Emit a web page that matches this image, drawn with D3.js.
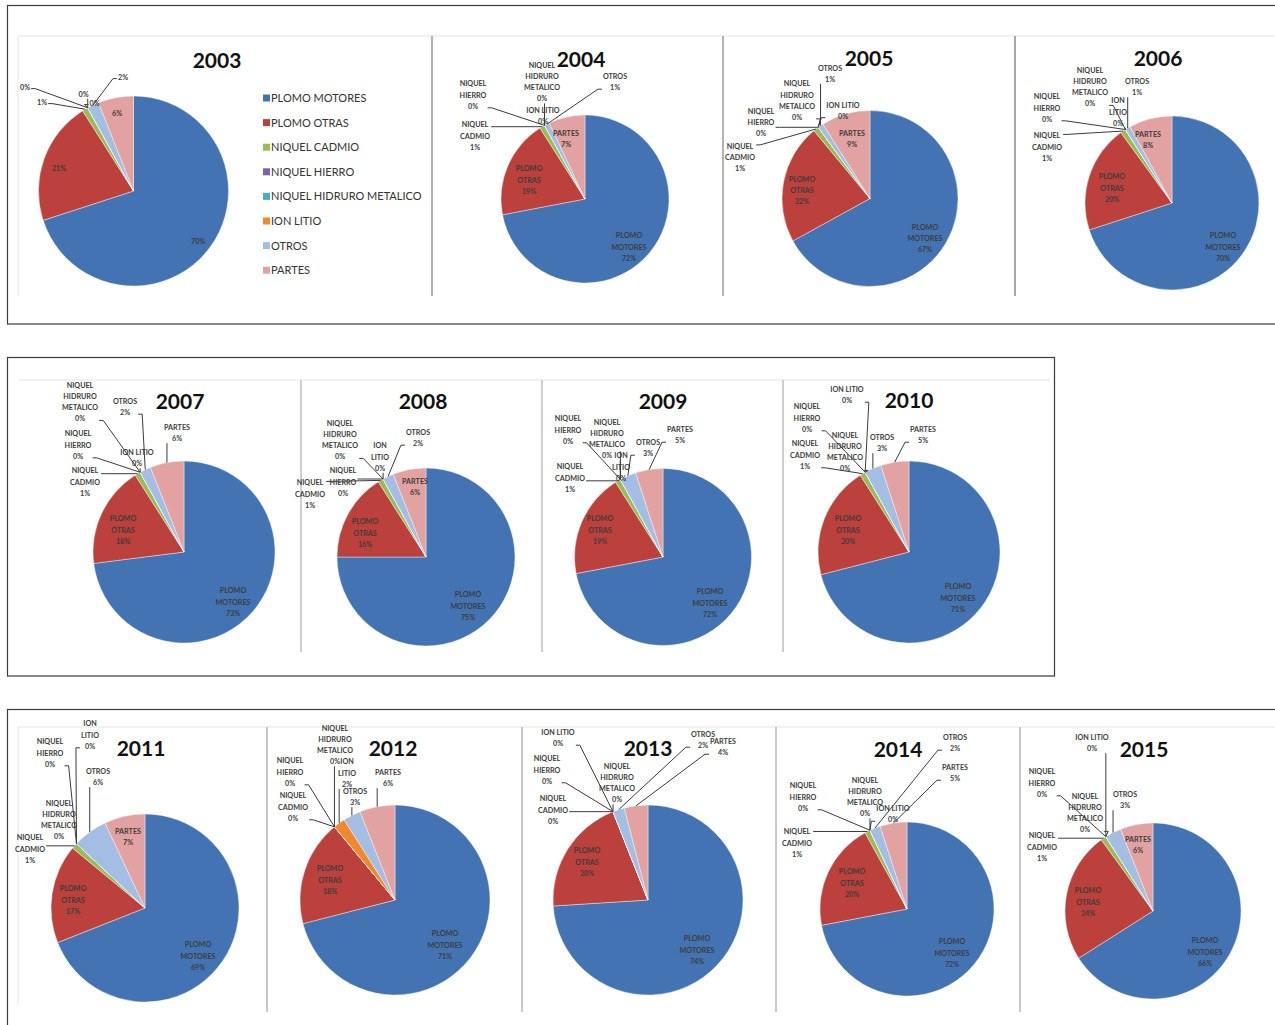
<!DOCTYPE html>
<html><head><meta charset="utf-8">
<script src="https://cdn.jsdelivr.net/npm/d3@7"></script>
<style>body{margin:0;background:#fff} svg{display:block}</style>
</head><body>
<svg id="c" width="1275" height="1025"></svg>
<script>
// ---------- DATA ----------
const categories = ["PLOMO MOTORES","PLOMO OTRAS","NIQUEL CADMIO","NIQUEL HIERRO","NIQUEL HIDRURO METALICO","ION LITIO","OTROS","PARTES"];
const years = ["2003","2004","2005","2006","2007","2008","2009","2010","2011","2012","2013","2014","2015"];
const v2003 = [70,21,1,0,0,0,2,6];
const v2004 = [72,19,1,0,0,0,1,7];
const v2005 = [67,22,1,0,0,0,1,9];
const v2006 = [70,20,1,0,0,0,1,8];
const v2007 = [73,18,1,0,0,0,2,6];
const v2008 = [75,16,1,0,0,0,2,6];
const v2009 = [72,19,1,0,0,0,3,5];
const v2010 = [71,20,1,0,0,0,3,5];
const v2011 = [69,17,1,0,0,0,6,7];
const v2012 = [71,18,0,0,0,2,3,6];
const v2013 = [74,20,0,0,0,0,2,4];
const v2014 = [72,20,1,0,0,0,2,5];
const v2015 = [66,24,1,0,0,0,3,6];
const valuesByYear = [v2003,v2004,v2005,v2006,v2007,v2008,v2009,v2010,v2011,v2012,v2013,v2014,v2015];

// ---------- STYLE / LAYOUT ----------
const colors = ["#4473B3","#BC403C","#9BBB59","#7F62A1","#4BACC6","#F0892E","#A4BDE3","#E2A2A1"];
const labelLines = [["PLOMO","MOTORES"],["PLOMO","OTRAS"],["NIQUEL","CADMIO"],["NIQUEL","HIERRO"],["NIQUEL","HIDRURO","METALICO"],["ION LITIO"],["OTROS"],["PARTES"]];
const FONT = "Lato, 'Open Sans', 'DejaVu Sans', sans-serif";

const layout = [
 {cx:133.5,cy:191,r:95, tx:217,ty:60, pctOnly:true,
  pos:[[64.5,50],[-74.5,-23],[-91.5,-89],[-108.5,-104],[-50,-97],[-39,-88],[-10.5,-114],[-16.5,-78]]},
 {cx:585,cy:199,r:84, tx:581,ty:59,
  pos:[[44,48],[-56,-19],[-110,-63],[-112,-104],[-43,-117],[-42,-83],[30,-117],[-19,-60]]},
 {cx:870,cy:198.5,r:88, tx:869,ty:58,
  pos:[[55,40],[-68,-8],[-130,-41],[-109,-76],[-73,-98],[-27,-88],[-40,-125],[-18,-60]]},
 {cx:1172,cy:203,r:87, tx:1158,ty:58, wrap:true,
  pos:[[51,44],[-60,-15],[-125,-56],[-125,-95],[-82,-116],[-54,-91],[-35,-116],[-24,-63]]},
 {cx:184,cy:552,r:91, tx:180,ty:401,
  pos:[[49,50],[-61,-22],[-99,-70],[-106,-107],[-104,-150],[-47,-94],[-59,-145],[-7,-119]]},
 {cx:426,cy:557,r:89, tx:423,ty:401, wrap:true,
  pos:[[42,49],[-61,-24],[-116,-63],[-83,-75],[-86,-117],[-46,-100],[-8,-119],[-11,-70]]},
 {cx:663,cy:557,r:88.5, tx:663,ty:401, wrap:true,
  pos:[[47,46],[-63,-27],[-93,-79],[-95,-127],[-56,-118],[-42,-90],[-15,-109],[17,-122]]},
 {cx:909,cy:552,r:91, tx:909,ty:400,
  pos:[[49,46],[-61,-22],[-104,-97],[-102,-134],[-64,-100],[-62,-157],[-27,-109],[14,-117]]},
 {cx:145,cy:908,r:94, tx:141,ty:748, wrap:true,
  pos:[[53,48],[-72,-8],[-115,-59],[-95,-155],[-86,-88],[-55,-173],[-47,-131],[-17,-71]]},
 {cx:395,cy:900,r:95, tx:393,ty:748, wrap:true,
  pos:[[50,45],[-65,-20],[-102,-93],[-105,-128],[-60,-155],[-48,-127],[-40,-103],[-7,-122]]},
 {cx:648,cy:900,r:95, tx:648,ty:748,
  pos:[[49,50],[-61,-38],[-95,-90],[-101,-130],[-31,-117],[-90,-162],[55,-160],[75,-153]]},
 {cx:907,cy:909,r:87, tx:898,ty:749,
  pos:[[45,44],[-55,-26],[-110,-66],[-104,-112],[-42,-112],[-14,-95],[48,-166],[48,-136]]},
 {cx:1153,cy:911,r:88, tx:1144,ty:749,
  pos:[[52,41],[-65,-9],[-111,-64],[-111,-128],[-68,-98],[-61,-168],[-28,-111],[-15,-66]]}
];

const svg = d3.select("#c");

// ---------- FRAMES ----------
const frames = svg.append("g");
frames.append("rect").attr("x",7.5).attr("y",5.5).attr("width",1290).attr("height",318.5)
  .attr("fill","none").attr("stroke","#3a3a3a").attr("stroke-width",1.2);
frames.append("rect").attr("x",7.5).attr("y",357.5).attr("width",1047).attr("height",318.5)
  .attr("fill","none").attr("stroke","#3a3a3a").attr("stroke-width",1.2);
frames.append("rect").attr("x",7.5).attr("y",709.5).attr("width",1290).attr("height",330)
  .attr("fill","none").attr("stroke","#3a3a3a").attr("stroke-width",1.2);
// faint chart-area edges
[[18,36,1275,36],[18,36,18,296],[18,380,1050,380],[18,727,1275,727],[18,727,18,1005]].forEach(l=>{
  frames.append("line").attr("x1",l[0]).attr("y1",l[1]).attr("x2",l[2]).attr("y2",l[3])
   .attr("stroke","#e4e4e4").attr("stroke-width",1);
});
// separators
const seps = [[432,36,296,"#9a9a9a"],[723,36,296,"#9a9a9a"],[1015,36,296,"#8a8a8a"],
              [301,380,652,"#c4bcbc"],[542,380,652,"#c4bcbc"],[783,380,652,"#c4bcbc"],
              [267,727,1012,"#b5b5b5"],[522,727,1012,"#b5b5b5"],[776,727,1012,"#b5b5b5"],[1020,727,1012,"#b5b5b5"]];
seps.forEach(s=>{
  frames.append("line").attr("x1",s[0]).attr("x2",s[0]).attr("y1",s[1]).attr("y2",s[2])
   .attr("stroke",s[3]).attr("stroke-width",1.5);
});

// ---------- PIES ----------
const pie = d3.pie().sort(null).value(d=>d);
const LH = 11.2;

years.forEach((yr,i)=>{
  const L = layout[i];
  const vals = valuesByYear[i];
  const arcs = pie(vals);
  const arc = d3.arc().innerRadius(0).outerRadius(L.r);
  const g = svg.append("g").attr("transform",`translate(${L.cx},${L.cy})`);
  g.selectAll("path.slice").data(arcs).enter().append("path")
    .attr("class","slice").attr("d",arc)
    .attr("fill",(d,j)=>colors[j])
    .attr("stroke","#ffffff").attr("stroke-width",0.4);

  // title
  svg.append("text").attr("x",L.tx).attr("y",L.ty+7.5).attr("text-anchor","middle")
    .attr("font-family",FONT).attr("font-weight","bold").attr("font-size",21)
    .attr("fill","#111").text(yr);

  // labels
  const lg = g.append("g");
  arcs.forEach((d,j)=>{
    let lines;
    if (L.pctOnly) lines = [];
    else if (j===5 && L.wrap) lines = ["ION","LITIO"];
    else lines = labelLines[j].slice();
    lines = lines.concat([d.data+"%"]);
    const [dx,dy] = L.pos[j];
    const n = lines.length;
    const t = lg.append("text").attr("text-anchor","middle")
      .attr("font-family",FONT).attr("font-weight","bold").attr("font-size",7.2)
      .attr("fill","#3c3c3c");
    lines.forEach((ln,k)=>{
      t.append("tspan").attr("x",dx).attr("y",dy - (n-1)*LH/2 + k*LH + 2.6).text(ln);
    });
    const dist = Math.hypot(dx,dy);
    if (dist > L.r*0.97) {
      const a = (d.startAngle+d.endAngle)/2;
      const px = L.r*Math.sin(a), py = -L.r*Math.cos(a);
      const bb = t.node().getBBox();
      const left = bb.x-1, right = bb.x+bb.width+1, top = bb.y, bot = bb.y+bb.height;
      let path;
      const cl = (v,lo,hi)=>Math.max(lo,Math.min(hi,v));
      if (px > right) {
        const sy = cl(py, top+3, bot-3);
        path = `M${right},${sy}h4L${px},${py}`;
      } else if (px < left) {
        const sy = cl(py, top+3, bot-3);
        path = `M${left},${sy}h-4L${px},${py}`;
      } else {
        const sy = py > bot ? bot : top;
        path = `M${px},${sy}L${px},${py}`;
      }
      lg.insert("path","text").attr("d",path).attr("fill","none")
        .attr("stroke","#3a3a3a").attr("stroke-width",1);
    }
  });
});

// ---------- LEGEND (2003) ----------
const lgd = svg.append("g").attr("transform","translate(263,98)");
categories.forEach((c,j)=>{
  const row = lgd.append("g").attr("transform",`translate(0,${j*24.6})`);
  row.append("rect").attr("x",0).attr("y",-3.5).attr("width",7).attr("height",7).attr("fill",colors[j]);
  row.append("text").attr("x",8).attr("y",4).attr("font-family",FONT).attr("font-size",11)
    .attr("fill","#333").text(c);
});
</script>
</body></html>
